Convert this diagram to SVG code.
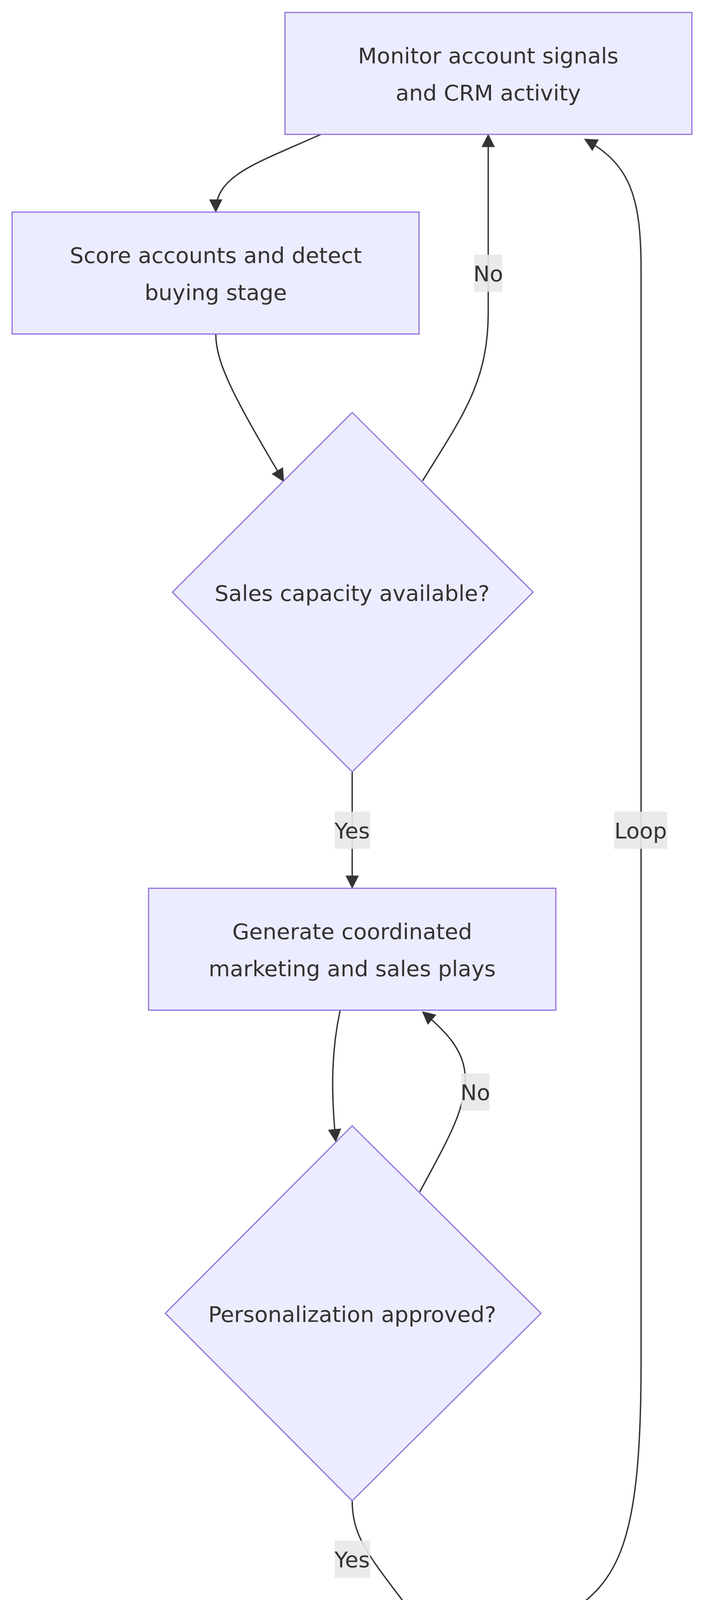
<svg xmlns="http://www.w3.org/2000/svg" width="1801" height="4482" viewBox="0 0 1801 4482">
<style>
.n{fill:#ECECFF;stroke:#9370DB;stroke-width:3}
.t{font-family:"DejaVu Sans",sans-serif;font-size:56px;fill:#333;text-anchor:middle}
.e{fill:none;stroke:#333;stroke-width:3.5;marker-end:url(#a)}
.lb{fill:#e8e8e8;opacity:0.9}
</style>
<defs><marker id="a" markerUnits="userSpaceOnUse" markerWidth="34" markerHeight="34" viewBox="0 0 10 10" refX="9" refY="5" orient="auto"><path d="M0,0L10,5L0,10z" fill="#333"/></marker></defs>
<rect width="1801" height="4482" fill="#fff"/>
<g id="edges">
<path class="e" d="M821,344 C650,420 552,450 552,541"/>
<path class="e" d="M552,855 C552,930 600,1020 725,1231"/>
<path class="e" d="M1081,1231 C1180,1070 1249,980 1249,800 L1249,346"/>
<path class="e" d="M901,1976 L901,2272"/>
<path class="e" d="M870,2587 C850,2680 845,2780 859,2921"/>
<path class="e" d="M1074,3051 C1150,2910 1190,2840 1190,2760 C1190,2690 1140,2640 1082,2591"/>
<path class="e" d="M901,3842 C901,3940 950,3990 1059,4136"/>
<path class="e" d="M1443,4138 C1580,4050 1640,3960 1640,3490 L1640,690 C1640,500 1610,420 1497,357"/>
<g>
<rect class="lb" x="1213" y="652" width="72" height="95"/><text class="t" x="1249" y="720">No</text>
<rect class="lb" x="856" y="2078" width="91" height="95"/><text class="t" x="901" y="2146">Yes</text>
<rect class="lb" x="1180" y="2748" width="72" height="95"/><text class="t" x="1216" y="2816">No</text>
<rect class="lb" x="856" y="3944" width="91" height="95"/><text class="t" x="901" y="4012">Yes</text>
<rect class="lb" x="1571" y="2078" width="136" height="95"/><text class="t" x="1639" y="2146">Loop</text>
</g>
</g>
<g id="n1"><rect class="n" x="729" y="32" width="1041" height="312"/><text class="t" x="1249" y="162">Monitor account signals</text><text class="t" x="1249" y="257">and CRM activity</text></g>
<g id="n2"><rect class="n" x="31" y="543" width="1041" height="312"/><text class="t" x="552" y="673">Score accounts and detect</text><text class="t" x="552" y="768">buying stage</text></g>
<g id="d1"><polygon class="n" points="901,1056 1364,1516 901,1976 441,1516"/><text class="t" x="901" y="1538">Sales capacity available?</text></g>
<g id="n3"><rect class="n" x="380" y="2274" width="1042" height="312"/><text class="t" x="901" y="2404">Generate coordinated</text><text class="t" x="901" y="2499">marketing and sales plays</text></g>
<g id="d2"><polygon class="n" points="901,2882 1384,3362 901,3842 423,3362"/><text class="t" x="901" y="3384">Personalization approved?</text></g>
<g id="n4"><rect class="n" x="710" y="4138" width="1041" height="313"/><text class="t" x="1230" y="4270">Activate sequences and</text><text class="t" x="1230" y="4365">learn from outcomes</text></g>
</svg>
